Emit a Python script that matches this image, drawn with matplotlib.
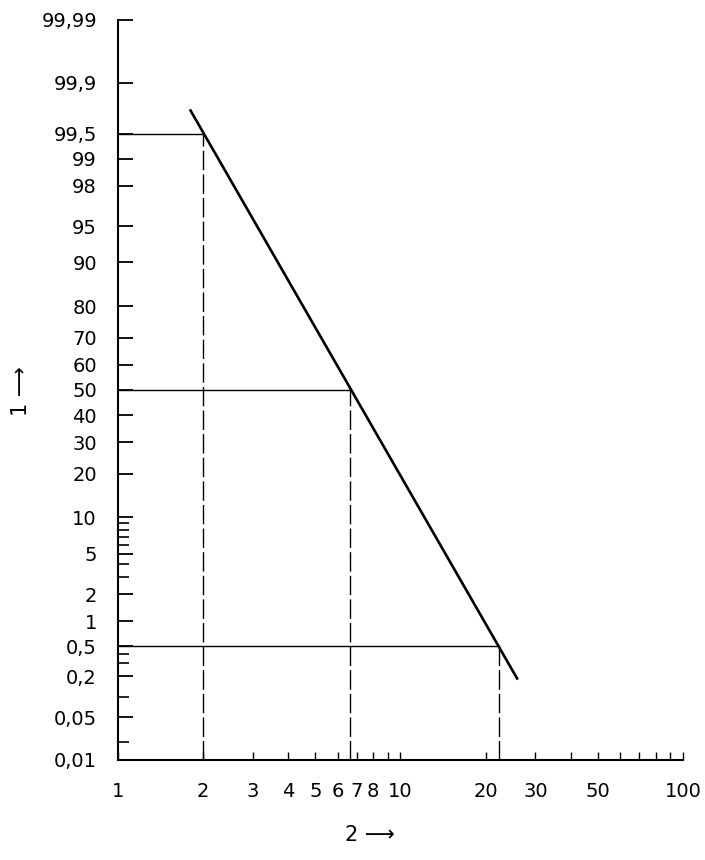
import numpy as np
import matplotlib
matplotlib.use('Agg')
import matplotlib.pyplot as plt
from statistics import NormalDist

# Probability (y, %) and size (x) values
line_x = [1.8, 26.0]
line_p = [99.76, 0.18]

ref_x = [2.0, 6.65, 22.3]
ref_p = [99.5, 50.0, 0.5]

y_ticks = [0.01, 0.05, 0.2, 0.5, 1, 2, 5, 10, 20, 30, 40, 50, 60, 70, 80, 90, 95, 98, 99, 99.5, 99.9, 99.99]
y_labels = ['0,01', '0,05', '0,2', '0,5', '1', '2', '5', '10', '20', '30', '40', '50', '60',
            '70', '80', '90', '95', '98', '99', '99,5', '99,9', '99,99']
y_minor = [0.02, 0.1, 0.3, 0.4, 3, 4, 6, 7, 8, 9]

x_ticks = [1, 2, 3, 4, 5, 6, 7, 8, 10, 20, 30, 50, 100]
x_labels = ['1', '2', '3', '4', '5', '6', '7', '8', '10', '20', '30', '50', '100']
x_minor = [9, 40, 60, 70, 80, 90]

nd = NormalDist()
_ppf = np.vectorize(nd.inv_cdf, otypes=[float])
_cdf = np.vectorize(nd.cdf, otypes=[float])


def forward(p):
    p = np.clip(np.asarray(p, dtype=float), 1e-6, 100 - 1e-6) / 100.0
    return _ppf(p)


def inverse(z):
    return _cdf(np.asarray(z, dtype=float)) * 100.0


fig = plt.figure(figsize=(7.05, 8.6), dpi=100)
ax = fig.add_axes([0.167, 0.1163, 0.802, 0.8605])

ax.set_xscale('log')
ax.set_yscale('function', functions=(forward, inverse))
ax.set_xlim(1, 100)
ax.set_ylim(0.01, 99.99)

# main line
ax.plot(line_x, line_p, color='black', linewidth=1.9, solid_capstyle='butt')

# reading lines: horizontal from the axis, dashed vertical down to the x axis
for xv, pv in zip(ref_x, ref_p):
    ax.plot([1, xv], [pv, pv], color='black', linewidth=1.0)
    ax.plot([xv, xv], [0.01, pv], color='black', linewidth=1.0, linestyle=(0, (14, 3)))

for s in ['top', 'right']:
    ax.spines[s].set_visible(False)
ax.spines['left'].set_linewidth(1.5)
ax.spines['bottom'].set_linewidth(1.5)

ax.set_yticks(y_ticks)
ax.set_yticklabels(y_labels)
ax.set_yticks(y_minor, minor=True)
ax.set_xticks(x_ticks)
ax.set_xticklabels(x_labels)
ax.set_xticks(x_minor, minor=True)
ax.xaxis.set_minor_formatter(matplotlib.ticker.NullFormatter())

ax.tick_params(axis='y', which='major', direction='in', length=11, width=1.3, pad=15, labelsize=14)
ax.tick_params(axis='y', which='minor', direction='in', length=8, width=1.2)
ax.tick_params(axis='x', which='major', direction='in', length=6, width=1.0, pad=16, labelsize=14)
ax.tick_params(axis='x', which='minor', direction='in', length=6, width=1.0)

fig.text(0.525, 0.017, '2 \u27f6', fontsize=15, ha='center', va='bottom')
fig.text(0.03, 0.545, '1 \u27f6', fontsize=15, ha='center', va='center', rotation=90)

plt.savefig('out.png', dpi=100)
